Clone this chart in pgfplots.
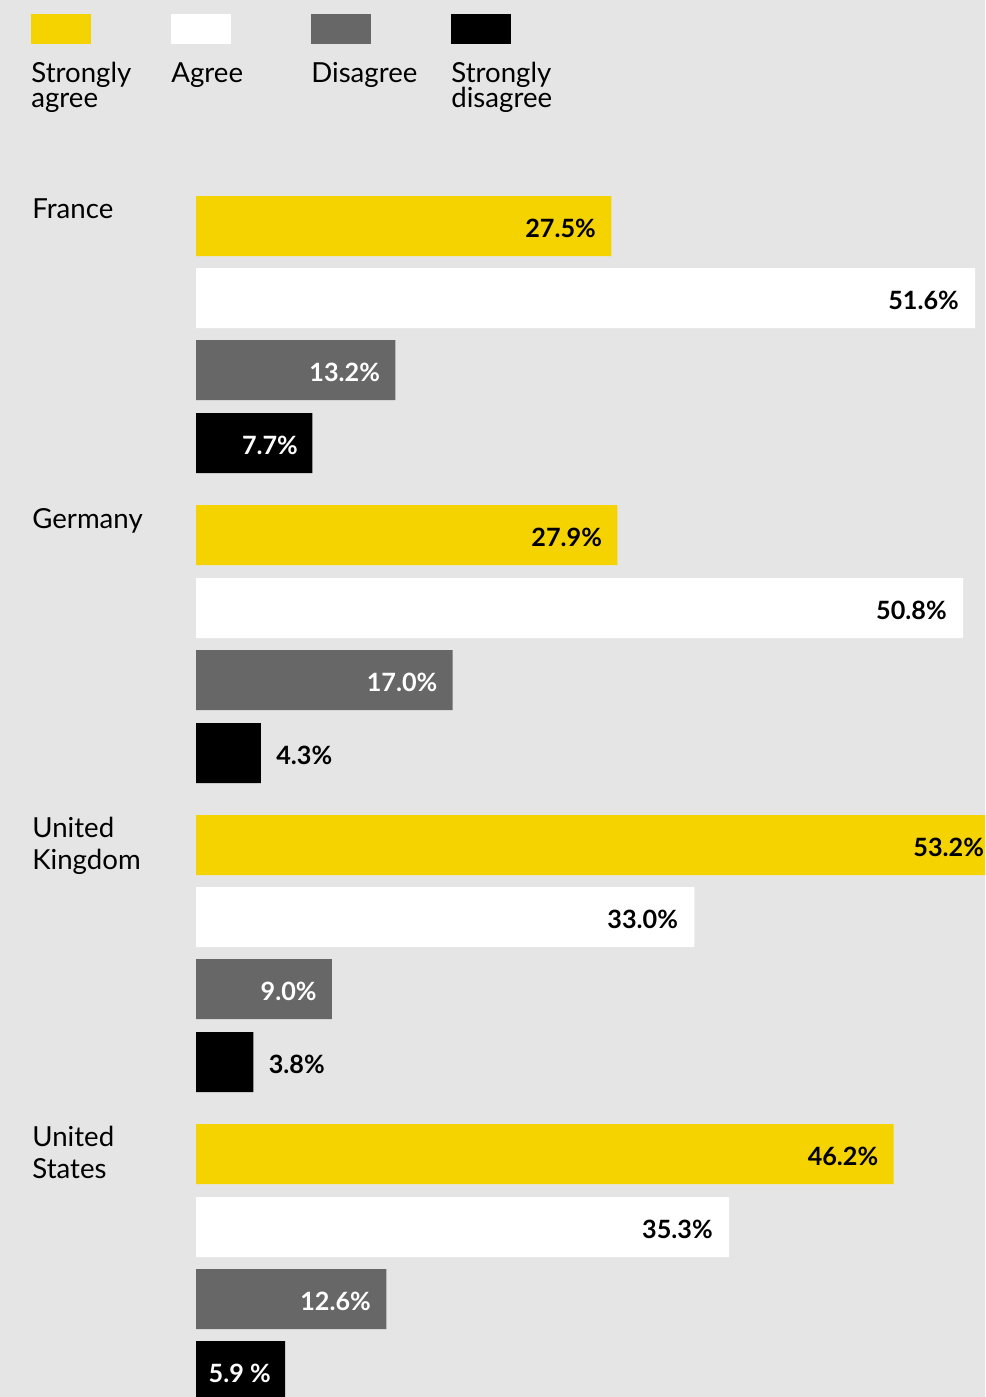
\documentclass[border=0pt]{standalone}
\usepackage{pgfplots}
\pgfplotsset{compat=1.18}
\usepackage{fontspec}
\setmainfont{Lato}
\definecolor{bg}{HTML}{E5E5E5}
\definecolor{sy}{HTML}{F5D300}
\definecolor{dg}{HTML}{676767}
\begin{document}
\begin{tikzpicture}[font=\fontsize{13.8pt}{13.8pt}\selectfont]
\path[fill=bg, use as bounding box] (0,0) rectangle (492.5pt,698.5pt);
\clip (0,0) rectangle (492.5pt,698.5pt);
\begin{axis}[
  at={(0,0)}, anchor=south west,
  scale only axis, width=492.5pt, height=698.5pt,
  xmin=-12.980, xmax=52.252, ymin=0, ymax=1397, y dir=reverse,
  axis lines=none, ticks=none, clip=false,
  xbar, bar width=60, bar shift=0pt,
  /pgf/number format/assume math mode=true,
  every node near coord/.append style={font=\fontsize{12.6pt}{12.6pt}\selectfont\bfseries, inner sep=0pt, yshift=-1pt},
  ]
% strongly agree
\addplot[draw=none, fill=sy, point meta=x,
  nodes near coords={\pgfmathprintnumber[fixed,fixed zerofill,precision=1]{\pgfplotspointmeta}\%},
  every node near coord/.append style={anchor=east, xshift=-7.5pt, text=black}]
  coordinates {(27.5,226) (27.9,535) (53.2,845) (46.2,1154)};
% agree
\addplot[draw=none, fill=white, point meta=x,
  nodes near coords={\pgfmathprintnumber[fixed,fixed zerofill,precision=1]{\pgfplotspointmeta}\%},
  every node near coord/.append style={anchor=east, xshift=-8pt, text=black}]
  coordinates {(51.6,298) (50.8,608) (33.0,917) (35.3,1227)};
% disagree
\addplot[draw=none, fill=dg, point meta=x,
  nodes near coords={\pgfmathprintnumber[fixed,fixed zerofill,precision=1]{\pgfplotspointmeta}\%},
  every node near coord/.append style={anchor=east, xshift=-7.5pt, text=white}]
  coordinates {(13.2,370) (17.0,680) (9.0,989) (12.6,1299)};
% strongly disagree, label inside
\addplot[draw=none, fill=black, point meta=explicit symbolic,
  nodes near coords,
  every node near coord/.append style={anchor=east, xshift=-7pt, text=white}]
  coordinates {(7.7,443) [7.7\%] (5.9,1371) [5.9 \%]};
% strongly disagree, label outside
\addplot[draw=none, fill=black, point meta=explicit symbolic,
  nodes near coords,
  every node near coord/.append style={anchor=west, xshift=7.5pt, text=black}]
  coordinates {(4.3,753) [4.3\%] (3.8,1062) [3.8\%]};
\end{axis}
\begin{scope}[shift={(0,698.5pt)}, x=0.5pt, y=-0.5pt]
  % legend
  \fill[sy] (31,14) rectangle (91,44);
  \fill[white] (171,14) rectangle (231,44);
  \fill[dg] (311,14) rectangle (371,44);
  \fill[black] (451,14) rectangle (511,44);
  \begin{scope}[every node/.style={anchor=base west, inner sep=0pt}]
  \node at (31,83) {Strongly};
  \node at (31,108) {agree};
  \node at (171,83) {Agree};
  \node at (311,83) {Disagree};
  \node at (451,83) {Strongly};
  \node at (451,108) {disagree};
  % countries
  \node at (32,219) {France};
  \node at (32,529) {Germany};
  \node at (32,838) {United};
  \node at (32,870) {Kingdom};
  \node at (32,1147) {United};
  \node at (32,1179) {States};
  \end{scope}
\end{scope}
\end{tikzpicture}
\end{document}
